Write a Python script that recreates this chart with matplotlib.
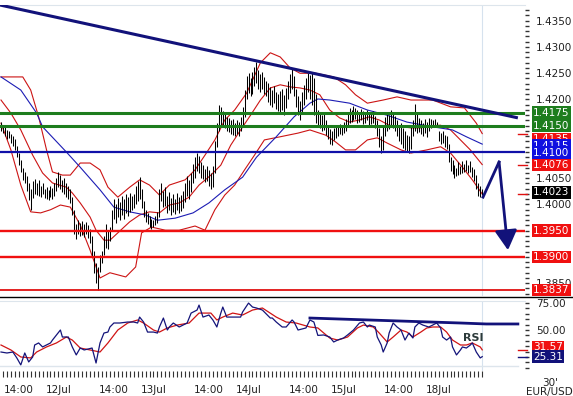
import numpy as np
import matplotlib.pyplot as plt
from matplotlib.lines import Line2D
from matplotlib.transforms import blended_transform_factory

# EUR/USD 30 min bars, bar 0 = 11Jul 09:30 (weekend 16-17Jul skipped)
high = [1.4158, 1.4152, 1.4150, 1.4142, 1.4140, 1.4134, 1.4130, 1.4124, 1.4112, 1.4098,
        1.4084, 1.4070, 1.4062, 1.4054, 1.4040, 1.4030, 1.4044, 1.4048, 1.4040, 1.4046,
        1.4036, 1.4040, 1.4030, 1.4034, 1.4028, 1.4036, 1.4032, 1.4040, 1.4050, 1.4062,
        1.4056, 1.4046, 1.4050, 1.4040, 1.4036, 1.4030, 1.4014, 1.3990, 1.3962, 1.3970,
        1.3964, 1.3968, 1.3962, 1.3966, 1.3960, 1.3954, 1.3940, 1.3912, 1.3888, 1.3880,
        1.3904, 1.3912, 1.3940, 1.3962, 1.3950, 1.3958, 1.3990, 1.4010, 1.4000, 1.4012,
        1.4004, 1.4016, 1.4010, 1.4020, 1.4014, 1.4022, 1.4016, 1.4020, 1.4036, 1.4044,
        1.4052, 1.4030, 1.4006, 1.3990, 1.3984, 1.3978, 1.3972, 1.3970, 1.3978, 1.3986,
        1.4030, 1.4040, 1.4026, 1.4034, 1.4016, 1.4024, 1.4012, 1.4020, 1.4010, 1.4022,
        1.4014, 1.4018, 1.4026, 1.4040, 1.4054, 1.4046, 1.4060, 1.4078, 1.4090, 1.4098,
        1.4092, 1.4080, 1.4076, 1.4068, 1.4074, 1.4066, 1.4060, 1.4074, 1.4120, 1.4156,
        1.4190, 1.4186, 1.4178, 1.4172, 1.4166, 1.4164, 1.4160, 1.4162, 1.4156, 1.4160,
        1.4158, 1.4166, 1.4186, 1.4218, 1.4244, 1.4250, 1.4240, 1.4252, 1.4262, 1.4272,
        1.4256, 1.4248, 1.4252, 1.4242, 1.4236, 1.4232, 1.4224, 1.4218, 1.4226, 1.4214,
        1.4210, 1.4216, 1.4220, 1.4208, 1.4222, 1.4236, 1.4248, 1.4260, 1.4244, 1.4220,
        1.4206, 1.4198, 1.4214, 1.4228, 1.4240, 1.4250, 1.4246, 1.4252, 1.4240, 1.4210,
        1.4180, 1.4176, 1.4170, 1.4172, 1.4160, 1.4150, 1.4144, 1.4140, 1.4146, 1.4150,
        1.4150, 1.4154, 1.4152, 1.4158, 1.4162, 1.4176, 1.4184, 1.4180, 1.4188, 1.4184,
        1.4180, 1.4176, 1.4182, 1.4178, 1.4174, 1.4180, 1.4176, 1.4172, 1.4178, 1.4168,
        1.4160, 1.4146, 1.4130, 1.4150, 1.4166, 1.4176, 1.4170, 1.4180, 1.4172, 1.4168,
        1.4160, 1.4152, 1.4156, 1.4146, 1.4140, 1.4132, 1.4130, 1.4148, 1.4160, 1.4192,
        1.4176, 1.4164, 1.4160, 1.4156, 1.4162, 1.4158, 1.4164, 1.4162, 1.4160, 1.4162,
        1.4158, 1.4140, 1.4136, 1.4140, 1.4132, 1.4130, 1.4116, 1.4090, 1.4084, 1.4076,
        1.4070, 1.4080, 1.4074, 1.4082, 1.4078, 1.4084, 1.4076, 1.4082, 1.4072, 1.4068,
        1.4056, 1.4040, 1.4036, 1.4030]
low = [1.4140, 1.4136, 1.4130, 1.4124, 1.4126, 1.4118, 1.4112, 1.4104, 1.4090, 1.4076,
       1.4062, 1.4046, 1.4040, 1.4026, 1.4008, 1.3990, 1.4012, 1.4020, 1.4018, 1.4016,
       1.4014, 1.4020, 1.4012, 1.4010, 1.4008, 1.4014, 1.4010, 1.4016, 1.4026, 1.4034,
       1.4030, 1.4024, 1.4020, 1.4014, 1.4010, 1.4002, 1.3980, 1.3944, 1.3934, 1.3944,
       1.3940, 1.3942, 1.3938, 1.3944, 1.3936, 1.3926, 1.3900, 1.3870, 1.3850, 1.3838,
       1.3872, 1.3888, 1.3904, 1.3918, 1.3916, 1.3930, 1.3950, 1.3972, 1.3964, 1.3976,
       1.3970, 1.3980, 1.3972, 1.3984, 1.3978, 1.3986, 1.3990, 1.3994, 1.4000, 1.4006,
       1.4010, 1.3994, 1.3976, 1.3966, 1.3962, 1.3958, 1.3954, 1.3958, 1.3960, 1.3964,
       1.3976, 1.4006, 1.3996, 1.3998, 1.3984, 1.3990, 1.3980, 1.3986, 1.3982, 1.3990,
       1.3984, 1.3988, 1.3994, 1.4004, 1.4016, 1.4010, 1.4024, 1.4040, 1.4050, 1.4064,
       1.4060, 1.4050, 1.4048, 1.4042, 1.4044, 1.4036, 1.4030, 1.4034, 1.4060, 1.4110,
       1.4140, 1.4150, 1.4148, 1.4146, 1.4140, 1.4138, 1.4134, 1.4132, 1.4130, 1.4134,
       1.4130, 1.4140, 1.4150, 1.4166, 1.4200, 1.4212, 1.4206, 1.4210, 1.4226, 1.4232,
       1.4220, 1.4214, 1.4220, 1.4210, 1.4206, 1.4196, 1.4190, 1.4186, 1.4194, 1.4182,
       1.4178, 1.4172, 1.4180, 1.4170, 1.4184, 1.4200, 1.4212, 1.4220, 1.4206, 1.4186,
       1.4170, 1.4160, 1.4176, 1.4190, 1.4200, 1.4214, 1.4200, 1.4190, 1.4170, 1.4156,
       1.4150, 1.4146, 1.4140, 1.4142, 1.4132, 1.4124, 1.4116, 1.4114, 1.4122, 1.4126,
       1.4130, 1.4134, 1.4132, 1.4136, 1.4140, 1.4150, 1.4156, 1.4158, 1.4160, 1.4162,
       1.4156, 1.4158, 1.4160, 1.4154, 1.4156, 1.4160, 1.4152, 1.4154, 1.4156, 1.4146,
       1.4130, 1.4110, 1.4098, 1.4104, 1.4130, 1.4140, 1.4144, 1.4150, 1.4146, 1.4140,
       1.4130, 1.4120, 1.4116, 1.4108, 1.4104, 1.4100, 1.4098, 1.4106, 1.4130, 1.4140,
       1.4136, 1.4138, 1.4134, 1.4130, 1.4136, 1.4128, 1.4140, 1.4146, 1.4150, 1.4148,
       1.4150, 1.4120, 1.4116, 1.4118, 1.4110, 1.4106, 1.4080, 1.4064, 1.4058, 1.4050,
       1.4054, 1.4056, 1.4058, 1.4060, 1.4062, 1.4064, 1.4060, 1.4062, 1.4052, 1.4044,
       1.4030, 1.4016, 1.4014, 1.4018]

# Bollinger (rød) og glidende snitt (blå), lest av bildet
bb_up_x = [0, 11, 15, 19, 23, 26, 31, 35, 40, 45, 50, 54, 59, 65, 70, 75, 80, 85, 93, 98, 103, 108,
           113, 118, 124, 131, 136, 141, 146, 151, 159, 168, 174, 179, 185, 193, 200, 207, 218, 227,
           234, 240, 243]
bb_up = [1.4243, 1.4243, 1.4218, 1.4167, 1.4104, 1.4062, 1.4056, 1.4056, 1.4079, 1.4079, 1.4066,
         1.4033, 1.4014, 1.4033, 1.4047, 1.4037, 1.4018, 1.4037, 1.4047, 1.4066, 1.4094, 1.4123,
         1.4161, 1.4180, 1.4212, 1.4270, 1.4289, 1.4281, 1.4260, 1.4250, 1.4250, 1.4243, 1.4228,
         1.4209, 1.4193, 1.4199, 1.4205, 1.4199, 1.4199, 1.4186, 1.4184, 1.4155, 1.4135]
bb_mid_x = [0, 5, 10, 16, 21, 26, 33, 36, 40, 45, 48, 52, 55, 59, 65, 70, 75, 80, 85, 90, 95, 100,
            106, 111, 116, 121, 126, 131, 136, 141, 146, 151, 156, 161, 166, 171, 176, 181, 186,
            191, 196, 202, 207, 212, 217, 222, 227, 232, 237, 243]
bb_mid = [1.4199, 1.4174, 1.4142, 1.4094, 1.4060, 1.4041, 1.4033, 1.4022, 1.4003, 1.3976, 1.3951,
          1.3932, 1.3932, 1.3946, 1.3967, 1.3980, 1.3986, 1.3984, 1.3999, 1.4003, 1.4014, 1.4037,
          1.4056, 1.4075, 1.4113, 1.4142, 1.4170, 1.4199, 1.4222, 1.4228, 1.4224, 1.4222, 1.4218,
          1.4209, 1.4180, 1.4165, 1.4157, 1.4161, 1.4167, 1.4161, 1.4151, 1.4148, 1.4146, 1.4146,
          1.4150, 1.4151, 1.4142, 1.4123, 1.4104, 1.4076]
bb_low_x = [0, 5, 10, 15, 20, 25, 30, 35, 40, 45, 50, 55, 63, 68, 71, 76, 83, 90, 98, 103, 108,
            113, 118, 123, 128, 133, 141, 150, 156, 164, 169, 174, 179, 185, 190, 195, 202, 207,
            215, 222, 227, 233, 238, 243]
bb_low = [1.4155, 1.4104, 1.4037, 1.3986, 1.3984, 1.3990, 1.3999, 1.3995, 1.3961, 1.3913, 1.3860,
          1.3870, 1.3862, 1.3881, 1.3946, 1.3957, 1.3951, 1.3951, 1.3959, 1.3951, 1.3990, 1.4018,
          1.4037, 1.4066, 1.4094, 1.4123, 1.4129, 1.4136, 1.4142, 1.4132, 1.4119, 1.4104, 1.4104,
          1.4123, 1.4127, 1.4117, 1.4104, 1.4098, 1.4104, 1.4110, 1.4098, 1.4071, 1.4047, 1.4020]
ma_x = [0, 10, 18, 21, 33, 40, 50, 57, 65, 73, 79, 88, 97, 105, 113, 122, 129, 139, 148, 156, 160,
        166, 176, 185, 195, 205, 218, 228, 235, 243]
ma = [1.4243, 1.4218, 1.4174, 1.4148, 1.4100, 1.4071, 1.4028, 1.3995, 1.3986, 1.3980, 1.3970,
      1.3974, 1.3984, 1.4003, 1.4028, 1.4052, 1.4090, 1.4129, 1.4167, 1.4193, 1.4201, 1.4199,
      1.4193, 1.4180, 1.4170, 1.4157, 1.4148, 1.4142, 1.4129, 1.4115]

# RSI (blå) og signal (rød)
rsi_x = [0, 3, 6, 8, 10, 12, 14, 16, 17, 19, 21, 25, 26, 30, 31, 34, 36, 38, 40, 42, 46, 48, 50,
         52, 54, 55, 57, 60, 64, 67, 69, 70, 72, 74, 77, 79, 80, 82, 84, 85, 87, 90, 94, 96, 99,
         100, 102, 105, 107, 109, 111, 112, 114, 116, 121, 122, 125, 127, 129, 132, 136, 137,
         139, 142, 144, 147, 148, 150, 154, 156, 158, 160, 163, 166, 168, 170, 173, 175, 178,
         181, 183, 185, 186, 189, 190, 192, 193, 195, 196, 198, 200, 202, 204, 206, 208, 209,
         211, 213, 216, 218, 220, 222, 223, 225, 227, 228, 230, 232, 233, 235, 237, 238, 240,
         242, 243]
rsi = [29.6, 28.7, 29.6, 24.1, 17.6, 28.7, 20.4, 25.0, 36.1, 38.0, 34.3, 38.0, 40.7, 50.0, 43.5,
       43.5, 34.3, 26.9, 33.3, 31.5, 33.3, 19.4, 38.0, 47.2, 48.1, 52.8, 56.5, 56.5, 57.4, 57.4,
       56.5, 62.0, 57.4, 48.1, 48.1, 47.2, 52.8, 61.1, 50.0, 52.8, 56.5, 52.8, 56.5, 65.7, 68.5,
       73.1, 62.0, 63.9, 59.3, 52.8, 65.7, 71.3, 62.0, 62.0, 62.0, 66.7, 75.0, 71.3, 70.4, 68.5,
       61.1, 61.1, 57.4, 52.8, 52.8, 59.3, 57.4, 50.0, 51.9, 59.3, 57.4, 45.0, 45.4, 43.5, 38.9,
       40.7, 42.6, 45.4, 50.0, 56.5, 57.4, 52.8, 54.6, 52.8, 43.5, 36.1, 29.6, 38.0, 47.2, 56.5,
       52.8, 50.0, 40.7, 47.2, 42.6, 52.8, 56.5, 54.6, 52.8, 54.6, 56.5, 51.9, 43.5, 40.7, 43.5,
       34.3, 26.9, 31.5, 34.3, 33.3, 36.1, 38.0, 29.6, 24.1, 25.3]
sig_x = [0, 5, 10, 15, 18, 23, 28, 33, 36, 40, 45, 50, 54, 59, 64, 69, 72, 77, 80, 84, 89, 95,
         100, 106, 109, 112, 117, 122, 127, 132, 139, 144, 149, 156, 160, 163, 166, 170, 175, 180,
         183, 188, 191, 195, 198, 202, 205, 208, 212, 215, 218, 222, 225, 228, 232, 235, 238, 242,
         243]
sig = [36.1, 31.5, 25.0, 24.1, 29.6, 34.3, 38.0, 43.5, 40.7, 33.3, 31.5, 29.6, 38.0, 50.0, 56.5,
       59.3, 56.5, 50.0, 48.1, 51.9, 54.6, 56.5, 65.7, 65.7, 59.3, 62.0, 65.7, 63.9, 68.5, 70.4,
       62.0, 57.4, 56.5, 52.8, 51.9, 47.2, 42.6, 40.7, 43.5, 51.9, 54.6, 52.8, 47.2, 38.9, 43.5,
       50.0, 48.1, 43.5, 48.1, 51.9, 52.8, 52.8, 48.1, 40.7, 36.1, 36.1, 38.0, 34.3, 31.6]

# nivåer og trendlinjer
levels = [1.4175, 1.4150, 1.4100, 1.3950, 1.3900, 1.3837]
level_col = ['#1e7d1e', '#1e7d1e', '#1010a8', '#f01010', '#f01010', '#e01010']
level_lw = [2.2, 2.2, 1.6, 1.7, 1.7, 1.3]
trend_x = [-0.5, 261]
trend_y = [1.4380, 1.4165]
proj_x = [243.4, 251.5, 256]
proj_y = [1.4014, 1.4081, 1.3913]
rsi_tr_x = [156, 232, 245, 261]
rsi_tr_y = [61.1, 56.5, 55.6, 55.6]

day_pos = [9, 29, 57, 77, 105, 125, 153, 173, 201, 221]
day_lab = ['14:00', '12Jul', '14:00', '13Jul', '14:00', '14Jul', '14:00', '15Jul', '14:00', '18Jul']

NAVY = '#12127a'
W, H = 573, 396


def rect(l, t, r, b):
    return [l / W, 1 - b / H, (r - l) / W, (b - t) / H]


plt.rcParams['font.family'] = 'DejaVu Sans'
fig = plt.figure(figsize=(W / 100, H / 100), dpi=100)
ax = fig.add_axes(rect(0, 5, 525, 296))
ar = fig.add_axes(rect(0, 301, 525, 371))

xs = np.arange(len(high))
ax.set_xlim(-0.5, 264.6)
ax.set_ylim(1.38257, 1.43800)
ax.plot(bb_up_x, bb_up, color='#cc1414', lw=0.8, zorder=2)
ax.plot(bb_mid_x, bb_mid, color='#cc1414', lw=0.8, zorder=2)
ax.plot(bb_low_x, bb_low, color='#cc1414', lw=0.8, zorder=2)
ax.plot(ma_x, ma, color='#1c1cb4', lw=0.8, zorder=2)
ax.vlines(xs, low, high, color='black', lw=0.75, zorder=3)
for v, c, w in zip(levels, level_col, level_lw):
    ax.axhline(v, color=c, lw=w, zorder=4)
ax.plot(trend_x, trend_y, color=NAVY, lw=2.2, zorder=5, solid_capstyle='butt')
ax.plot(proj_x[:2], proj_y[:2], color=NAVY, lw=2, zorder=5)
ax.annotate('', xy=(proj_x[2], proj_y[2]), xytext=(proj_x[1], proj_y[1]),
            arrowprops=dict(arrowstyle='-|>,head_length=0.8,head_width=0.45', color=NAVY,
                            lw=2, mutation_scale=15, shrinkA=0, shrinkB=0), zorder=5)
ax.axvline(243, color='#d6e2ee', lw=0.8, zorder=1)

for s in ['left', 'right', 'bottom']:
    ax.spines[s].set_visible(False)
ax.spines['top'].set_color('#dde5ec')
ax.set_xticks([])
ax.yaxis.tick_right()
yt = np.arange(1.3850, 1.4360, 0.005)
# etiketter som ligger helt under boksene vises ikke
hidden = ['1.3900', '1.3950', '1.4100', '1.4150']
ax.set_yticks(yt)
ax.set_yticklabels(['' if '%.4f' % v in hidden else '%.4f' % v for v in yt])
ax.set_yticks(np.arange(1.383, 1.438, 0.001), minor=True)
ax.tick_params(axis='y', which='both', length=3, width=1, color='#333333', pad=5,
               labelsize=7.5, labelcolor='#222222')
tr = blended_transform_factory(ax.transAxes, ax.transData)
ax.text(533 / 525, 1.4400, '1.4400', transform=tr, va='center', ha='left', fontsize=7.5,
        color='#222222', clip_on=False)


def tag(a, y, txt, col, z=6):
    t = blended_transform_factory(a.transAxes, a.transData)
    a.text(533 / 525, y, txt, transform=t, color='white', fontsize=7.5, va='center', ha='left',
           bbox=dict(boxstyle='square,pad=0.12', fc=col, ec='none'), zorder=z, clip_on=False)


def mark(a, y, col):
    t = blended_transform_factory(a.transAxes, a.transData)
    a.plot([518 / 525, 527 / 525], [y, y], transform=t, color=col, lw=1, clip_on=False, zorder=5)


mark(ax, 1.4135, '#e01010')
mark(ax, 1.4076, '#e01010')
mark(ax, 1.4020, '#e01010')
tag(ax, 1.4175, '1.4175', '#1e7d1e')
tag(ax, 1.4150, '1.4150', '#1e7d1e')
tag(ax, 1.4125, '1.4135', '#f01010', 6)
tag(ax, 1.4112, '1.4115', '#1010e0', 7)
tag(ax, 1.4099, '1.4100', '#1010e0', 8)
tag(ax, 1.4075, '1.4076', '#f01010')
tag(ax, 1.4023, '1.4023', '#000000')
tag(ax, 1.3950, '1.3950', '#f01010')
tag(ax, 1.3900, '1.3900', '#f01010')
tag(ax, 1.3837, '1.3837', '#f01010')

# RSI-panel
ar.set_xlim(-0.5, 264.6)
ar.set_ylim(12.0, 76.9)
ar.plot(sig_x, sig, color='#d01414', lw=0.9)
ar.plot(rsi_x, rsi, color='#14147a', lw=0.9)
ar.plot(rsi_tr_x, rsi_tr_y, color=NAVY, lw=2)
ar.axhline(16.7, xmax=518 / 525, color='#dde5ec', lw=1)
ar.axvline(243, color='#d6e2ee', lw=0.8, zorder=1)
ar.text(238.4, 42.6, 'RSI', fontsize=8, fontweight='bold', color='#2c3a3a', ha='center',
        va='center')
for s in ['left', 'right', 'bottom']:
    ar.spines[s].set_visible(False)
ar.spines['top'].set_color('#dde5ec')
ar.yaxis.tick_right()
ar.set_yticks([25, 50, 75])
ar.set_yticklabels(['', '50.00', '75.00'])
ar.set_yticks(np.arange(15, 80, 5), minor=True)
ar.tick_params(axis='y', which='both', length=3, width=1, color='#333333', pad=5,
               labelsize=7.5, labelcolor='#222222')
ar.set_xticks(day_pos)
ar.set_xticklabels(day_lab)
ar.set_xticks(np.arange(1, 244, 2), minor=True)
ar.tick_params(axis='x', which='both', length=4, width=0.8, color='#333333', pad=6,
               labelsize=7.5, labelcolor='#222222')
mark(ar, 31.57, '#e01010')
mark(ar, 25.31, NAVY)
tag(ar, 34.0, '31.57', '#f01010', 6)
tag(ar, 25.31, '25.31', NAVY, 7)

fig.add_artist(Line2D([0, 1], [1 - 297 / H] * 2, color='black', lw=1))
fig.text(550 / W, 1 - 383 / H, "30'", fontsize=7.5, ha='center', va='center', color='#222222')
fig.text(549 / W, 1 - 392 / H, 'EUR/USD', fontsize=7.5, ha='center', va='center', color='#222222')

fig.savefig('out.png', dpi=100)
